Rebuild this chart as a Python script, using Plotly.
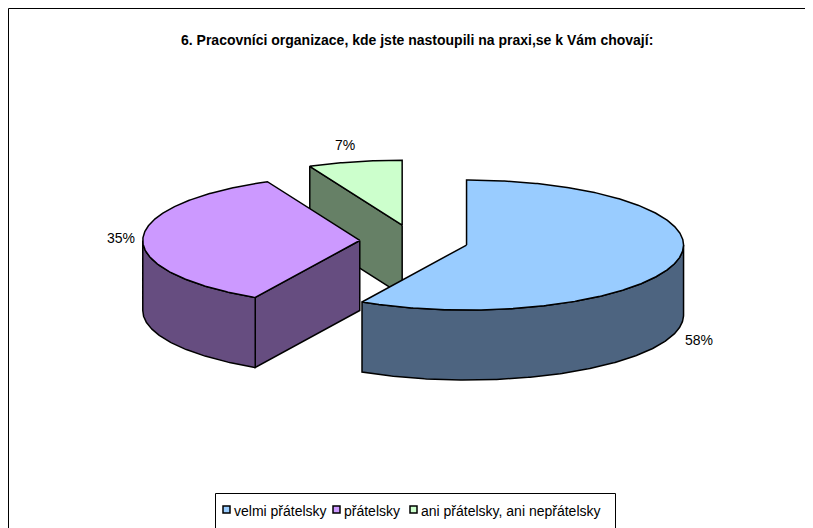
import numpy as np
import plotly.graph_objects as go

# ---- data ----
categories = ["velmi přátelsky", "přátelsky", "ani přátelsky, ani nepřátelsky"]
values = [58, 35, 7]
title_text = "6. Pracovníci organizace, kde jste nastoupili na praxi,se k Vám chovají:"

# ---- style ----
top_colors = ["#99CCFF", "#CC99FF", "#CCFFCC"]
side_colors = ["#4D6480", "#664D80", "#668066"]
FONT = "Arial, Liberation Sans, sans-serif"
FS = 14

# page offset: the html body has an 8px margin, so axis ranges start at 8
OFF = 8
W, H = 813, 528
CX, CY = 414, 241          # pie centre (top face), page pixel units
A, B = 217, 65             # ellipse semi-axes
DEPTH = 70                 # extrusion thickness
PULL = 0.25                # explosion, fraction of radius
LABEL_OFFSETS = [(6, 79, "left"), (-6, 0, "right"), (-10, -17, "center")]
LEGEND_X = [223, 333, 410]
LEGEND_Y = 510
LEGEND_BOX = (215.5, 493.5, 615.5, 540)
FRAME = (8.5, 8.5, 809.5, 540)


def rim(cx, cy, t):
    r = np.radians(t)
    return cx + A * np.sin(r), cy - B * np.cos(r)


total = float(sum(values))
starts = np.concatenate([[0.0], np.cumsum(values)[:-1]]) / total * 360.0
ends = np.cumsum(values) / total * 360.0

slices = []
for i, (s, e) in enumerate(zip(starts, ends)):
    m = (s + e) / 2.0
    cx = CX + A * PULL * np.sin(np.radians(m))
    cy = CY - B * PULL * np.cos(np.radians(m))
    slices.append(dict(i=i, s=s, e=e, m=m, cx=cx, cy=cy))

fig = go.Figure()
line = dict(color="black", width=1.5)


def add_poly(xs, ys, color):
    xs = list(xs) + [xs[0]]
    ys = list(ys) + [ys[0]]
    fig.add_trace(go.Scatter(x=xs, y=ys, mode="lines", fill="toself",
                             fillcolor=color, line=line, hoverinfo="skip",
                             showlegend=False))


# back to front
for sl in sorted(slices, key=lambda d: d["cy"]):
    i, s, e, cx, cy = sl["i"], sl["s"], sl["e"], sl["cx"], sl["cy"]
    sc = side_colors[i]
    # radial faces
    for ang, normal in ((s, s - 90), (e, e + 90)):
        if np.cos(np.radians(normal)) < -1e-6:
            px, py = rim(cx, cy, ang)
            add_poly([cx, px, px, cx], [cy, py, py + DEPTH, cy + DEPTH], sc)
    # outer cylinder wall (front half only)
    t0, t1 = max(s, 90.0), min(e, 270.0)
    if t1 > t0:
        ts = np.linspace(t0, t1, max(8, int((t1 - t0) * 2)))
        ax, ay = rim(cx, cy, ts)
        xs = np.concatenate([ax, ax[::-1]])
        ys = np.concatenate([ay, (ay + DEPTH)[::-1]])
        add_poly(xs, ys, sc)
    # top face
    ts = np.linspace(s, e, max(8, int((e - s) * 2)))
    ax, ay = rim(cx, cy, ts)
    add_poly(np.concatenate([[cx], ax]), np.concatenate([[cy], ay]), top_colors[i])

annotations = []
# percentage labels
for sl in slices:
    i = sl["i"]
    px, py = rim(sl["cx"], sl["cy"], sl["m"])
    dx, dy, anc = LABEL_OFFSETS[i]
    pct = round(values[i] / total * 100)
    annotations.append(dict(x=px + dx, y=py + dy, text=f"{pct}%", showarrow=False,
                            xanchor=anc, yanchor="middle",
                            font=dict(family=FONT, size=FS, color="#000000")))

# title
annotations.append(dict(x=417, y=40, text=f"<b>{title_text}</b>", showarrow=False,
                        xanchor="center", yanchor="middle",
                        font=dict(family=FONT, size=FS, color="#000000")))

shapes = [
    dict(type="rect", x0=FRAME[0], y0=FRAME[1], x1=FRAME[2], y1=FRAME[3],
         line=dict(color="black", width=1), fillcolor="rgba(0,0,0,0)", layer="below"),
    dict(type="rect", x0=LEGEND_BOX[0], y0=LEGEND_BOX[1], x1=LEGEND_BOX[2], y1=LEGEND_BOX[3],
         line=dict(color="black", width=1), fillcolor="white"),
]
for i, name in enumerate(categories):
    lx = LEGEND_X[i]
    shapes.append(dict(type="rect", x0=lx, y0=LEGEND_Y - 4, x1=lx + 7, y1=LEGEND_Y + 3,
                       line=dict(color="black", width=1.5), fillcolor=top_colors[i]))
    annotations.append(dict(x=lx + 9, y=LEGEND_Y + 1, text=name, showarrow=False,
                            xanchor="left", yanchor="middle",
                            font=dict(family=FONT, size=FS, color="#000000")))

fig.update_layout(
    width=W - OFF, height=H - OFF, autosize=False,
    margin=dict(l=0, r=0, t=0, b=0),
    paper_bgcolor="white", plot_bgcolor="white",
    xaxis=dict(range=[OFF, W], visible=False, fixedrange=True),
    yaxis=dict(range=[H, OFF], visible=False, fixedrange=True),
    shapes=shapes, annotations=annotations, showlegend=False,
)

fig.write_html("out.html")
